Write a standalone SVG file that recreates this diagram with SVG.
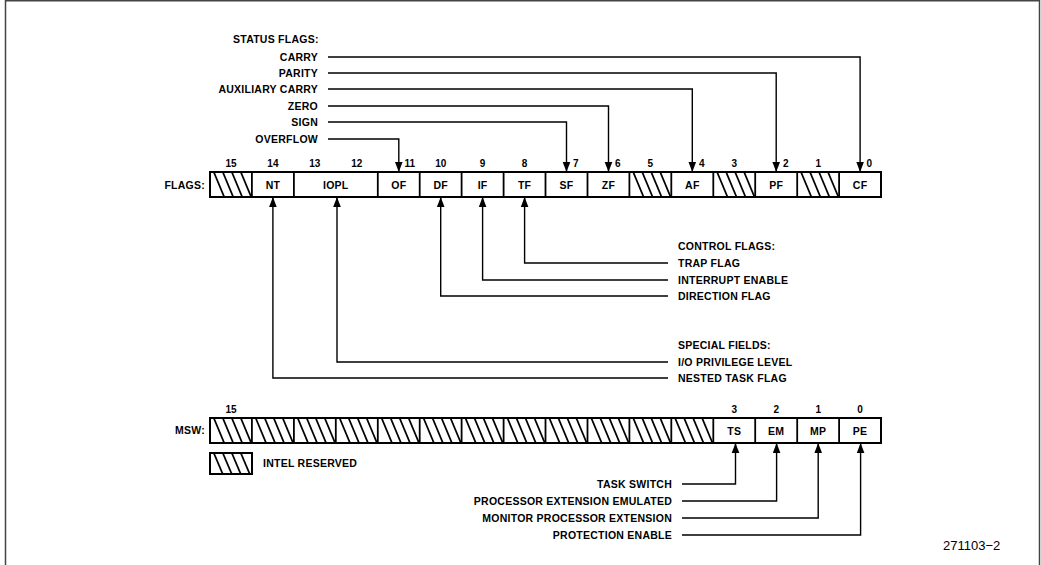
<svg xmlns="http://www.w3.org/2000/svg" xmlns:xlink="http://www.w3.org/1999/xlink" width="1041" height="565" viewBox="0 0 1041 565">
<style>
text{font-family:"Liberation Sans",Arial,sans-serif;fill:#000}
.b{font-weight:bold;font-size:10.5px;letter-spacing:0.25px}
.n{font-weight:bold;font-size:10px}
.c{text-anchor:middle}
.e{text-anchor:end}
.cell{fill:#fff;stroke:#000;stroke-width:2}
.w{fill:none;stroke:#000;stroke-width:1.4}
.h line{stroke:#000;stroke-width:1.8}
.frame{fill:none;stroke:#444;stroke-width:1.5}
</style>
<defs>
<g id="hatch" class="h">
<line x1="4" y1="0.5" x2="14" y2="24.5"/>
<line x1="13" y1="0.5" x2="23" y2="24.5"/>
<line x1="22" y1="0.5" x2="32" y2="24.5"/>
<line x1="31" y1="0.5" x2="41" y2="24.5"/>
</g>
<marker id="ah" viewBox="0 0 10 12" refX="10" refY="6" markerWidth="10" markerHeight="12" markerUnits="userSpaceOnUse" orient="auto">
<path d="M0,2.2 L10,6 L0,9.8 Z" fill="#000"/>
</marker>
</defs>
<rect width="1041" height="565" fill="#fff"/>
<g id="frame">
<path class="frame" d="M5.5,565 V0.75 H1039.5 V565"/>
</g>

<g id="status-labels">
<text class="b" x="233" y="43">STATUS FLAGS:</text>
<text class="b e" x="318" y="61">CARRY</text>
<text class="b e" x="318" y="77">PARITY</text>
<text class="b e" x="318" y="93">AUXILIARY CARRY</text>
<text class="b e" x="318" y="110">ZERO</text>
<text class="b e" x="318" y="126">SIGN</text>
<text class="b e" x="318" y="143">OVERFLOW</text>
</g>

<g id="flags-register">
<text class="b e" x="205" y="189">FLAGS:</text>
<rect class="cell" x="210" y="172" width="671" height="25"/>
<use xlink:href="#hatch" x="210" y="172"/>
<use xlink:href="#hatch" x="629.4" y="172"/>
<use xlink:href="#hatch" x="713.3" y="172"/>
<use xlink:href="#hatch" x="797.2" y="172"/>
<g stroke="#000" stroke-width="1.8">
<line x1="251.9" y1="172" x2="251.9" y2="197"/>
<line x1="293.9" y1="172" x2="293.9" y2="197"/>
<line x1="377.8" y1="172" x2="377.8" y2="197"/>
<line x1="419.7" y1="172" x2="419.7" y2="197"/>
<line x1="461.6" y1="172" x2="461.6" y2="197"/>
<line x1="503.6" y1="172" x2="503.6" y2="197"/>
<line x1="545.5" y1="172" x2="545.5" y2="197"/>
<line x1="587.5" y1="172" x2="587.5" y2="197"/>
<line x1="629.4" y1="172" x2="629.4" y2="197"/>
<line x1="671.3" y1="172" x2="671.3" y2="197"/>
<line x1="713.3" y1="172" x2="713.3" y2="197"/>
<line x1="755.2" y1="172" x2="755.2" y2="197"/>
<line x1="797.2" y1="172" x2="797.2" y2="197"/>
<line x1="839.1" y1="172" x2="839.1" y2="197"/>
</g>
<g class="b c">
<text x="272.9" y="188.5">NT</text>
<text x="335.8" y="188.5">IOPL</text>
<text x="398.8" y="188.5">OF</text>
<text x="440.7" y="188.5">DF</text>
<text x="482.6" y="188.5">IF</text>
<text x="524.6" y="188.5">TF</text>
<text x="566.5" y="188.5">SF</text>
<text x="608.5" y="188.5">ZF</text>
<text x="692.3" y="188.5">AF</text>
<text x="776.2" y="188.5">PF</text>
<text x="860.1" y="188.5">CF</text>
</g>
<g class="n c">
<text x="231" y="167">15</text>
<text x="272.9" y="167">14</text>
<text x="314.8" y="167">13</text>
<text x="356.8" y="167">12</text>
<text x="440.7" y="167">10</text>
<text x="482.6" y="167">9</text>
<text x="524.6" y="167">8</text>
<text x="650.4" y="167">5</text>
<text x="734.3" y="167">3</text>
<text x="818.2" y="167">1</text>
</g>
<g class="n">
<text x="404.5" y="167">11</text>
<text x="573" y="167">7</text>
<text x="615" y="167">6</text>
<text x="699" y="167">4</text>
<text x="783" y="167">2</text>
<text x="866.5" y="167">0</text>
</g>
</g>

<g id="control-labels">
<text class="b" x="678" y="250">CONTROL FLAGS:</text>
<text class="b" x="678" y="267">TRAP FLAG</text>
<text class="b" x="678" y="284">INTERRUPT ENABLE</text>
<text class="b" x="678" y="300">DIRECTION FLAG</text>
<text class="b" x="678" y="349">SPECIAL FIELDS:</text>
<text class="b" x="678" y="366">I/O PRIVILEGE LEVEL</text>
<text class="b" x="678" y="382">NESTED TASK FLAG</text>
</g>

<g id="msw-register">
<text class="b e" x="205" y="434">MSW:</text>
<rect class="cell" x="210" y="418" width="671" height="25"/>
<use xlink:href="#hatch" x="210" y="418"/>
<use xlink:href="#hatch" x="251.9" y="418"/>
<use xlink:href="#hatch" x="293.9" y="418"/>
<use xlink:href="#hatch" x="335.8" y="418"/>
<use xlink:href="#hatch" x="377.8" y="418"/>
<use xlink:href="#hatch" x="419.7" y="418"/>
<use xlink:href="#hatch" x="461.6" y="418"/>
<use xlink:href="#hatch" x="503.6" y="418"/>
<use xlink:href="#hatch" x="545.5" y="418"/>
<use xlink:href="#hatch" x="587.5" y="418"/>
<use xlink:href="#hatch" x="629.4" y="418"/>
<use xlink:href="#hatch" x="671.3" y="418"/>
<g stroke="#000" stroke-width="1.8">
<line x1="251.9" y1="418" x2="251.9" y2="443"/>
<line x1="293.9" y1="418" x2="293.9" y2="443"/>
<line x1="335.8" y1="418" x2="335.8" y2="443"/>
<line x1="377.8" y1="418" x2="377.8" y2="443"/>
<line x1="419.7" y1="418" x2="419.7" y2="443"/>
<line x1="461.6" y1="418" x2="461.6" y2="443"/>
<line x1="503.6" y1="418" x2="503.6" y2="443"/>
<line x1="545.5" y1="418" x2="545.5" y2="443"/>
<line x1="587.5" y1="418" x2="587.5" y2="443"/>
<line x1="629.4" y1="418" x2="629.4" y2="443"/>
<line x1="671.3" y1="418" x2="671.3" y2="443"/>
<line x1="713.3" y1="418" x2="713.3" y2="443"/>
<line x1="755.2" y1="418" x2="755.2" y2="443"/>
<line x1="797.2" y1="418" x2="797.2" y2="443"/>
<line x1="839.1" y1="418" x2="839.1" y2="443"/>
</g>
<g class="b c">
<text x="734.3" y="434.5">TS</text>
<text x="776.2" y="434.5">EM</text>
<text x="818.2" y="434.5">MP</text>
<text x="860.1" y="434.5">PE</text>
</g>
<g class="n c">
<text x="231" y="413">15</text>
<text x="734.3" y="413">3</text>
<text x="776.2" y="413">2</text>
<text x="818.2" y="413">1</text>
<text x="860.1" y="413">0</text>
</g>
</g>

<g id="msw-labels">
<text class="b e" x="672" y="488">TASK SWITCH</text>
<text class="b e" x="672" y="505">PROCESSOR EXTENSION EMULATED</text>
<text class="b e" x="672" y="522">MONITOR PROCESSOR EXTENSION</text>
<text class="b e" x="672" y="539">PROTECTION ENABLE</text>
</g>

<g id="legend">
<rect class="cell" x="210" y="453" width="42" height="21"/>
<g class="h">
<line x1="214" y1="453.5" x2="222.5" y2="473.5"/>
<line x1="223" y1="453.5" x2="231.5" y2="473.5"/>
<line x1="232" y1="453.5" x2="240.5" y2="473.5"/>
<line x1="241" y1="453.5" x2="249.5" y2="473.5"/>
</g>
<text class="b" x="263" y="467">INTEL RESERVED</text>
</g>

<g id="figure-number">
<text x="943" y="550" style="font-size:13px">271103−2</text>
</g>

<g id="connectors" class="w">
<path marker-end="url(#ah)" d="M328,57 H860.1 V172"/>
<path marker-end="url(#ah)" d="M328,73 H776.2 V172"/>
<path marker-end="url(#ah)" d="M328,89 H692.3 V172"/>
<path marker-end="url(#ah)" d="M328,106 H608.5 V172"/>
<path marker-end="url(#ah)" d="M328,122 H566.5 V172"/>
<path marker-end="url(#ah)" d="M328,139 H398.8 V172"/>
<path marker-end="url(#ah)" d="M668,263 H524.6 V197"/>
<path marker-end="url(#ah)" d="M668,280 H482.6 V197"/>
<path marker-end="url(#ah)" d="M668,296 H440.7 V197"/>
<path marker-end="url(#ah)" d="M668,362 H337 V197"/>
<path marker-end="url(#ah)" d="M668,378 H272.9 V197"/>
<path marker-end="url(#ah)" d="M682,484 H735.5 V443"/>
<path marker-end="url(#ah)" d="M682,501 H776.6 V443"/>
<path marker-end="url(#ah)" d="M682,518 H818.2 V443"/>
<path marker-end="url(#ah)" d="M682,535 H860.6 V443"/>
</g>
</svg>
